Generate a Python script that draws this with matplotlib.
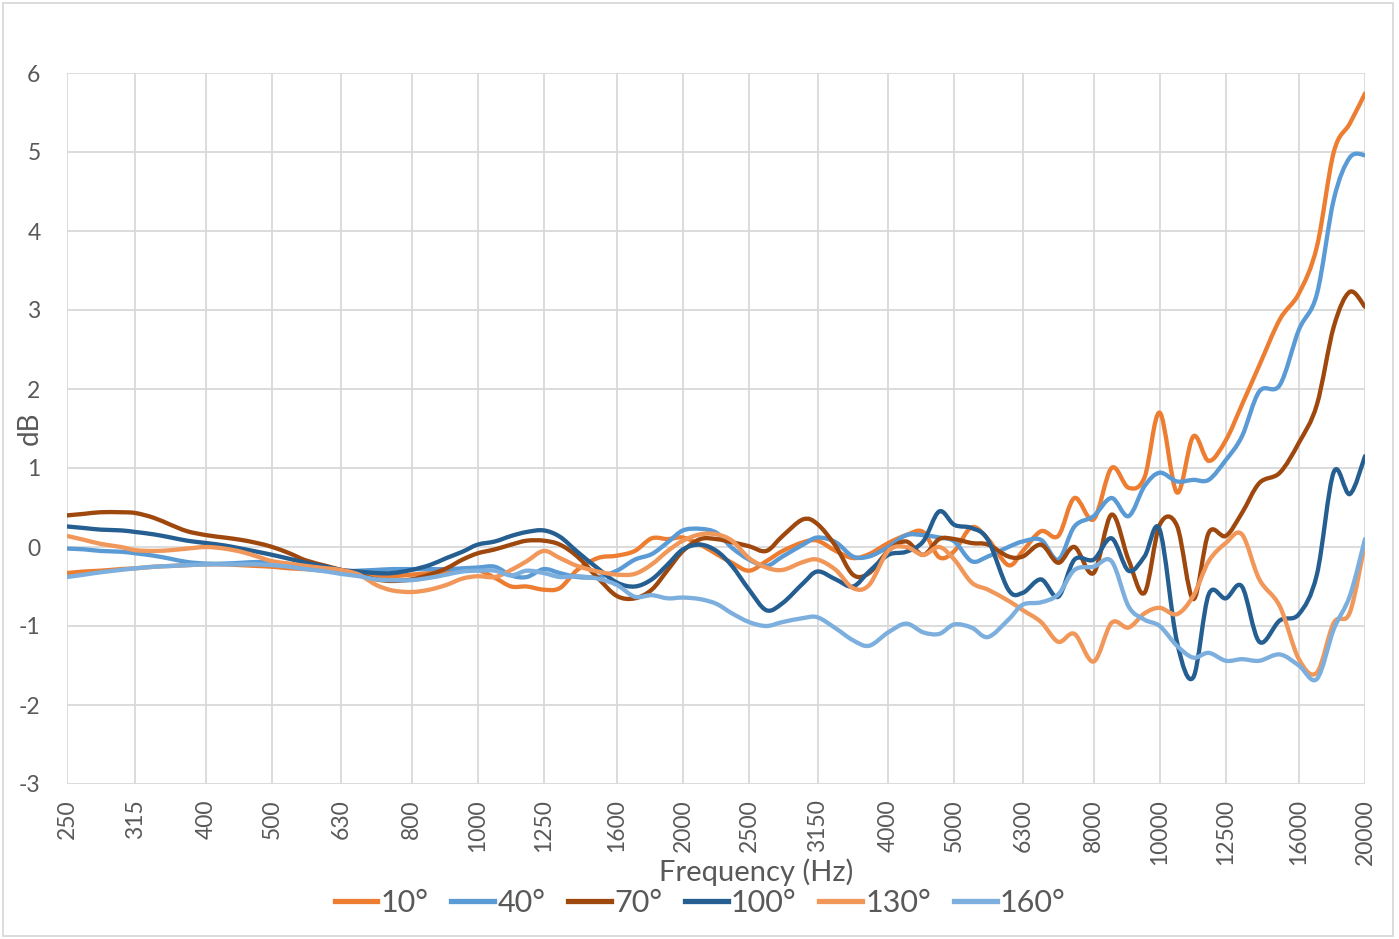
import numpy as np
import matplotlib.pyplot as plt
from matplotlib.path import Path
from matplotlib.patches import PathPatch, Rectangle
from matplotlib.lines import Line2D
from matplotlib.ticker import NullLocator

plt.rcParams['font.family'] = ['Lato', 'DejaVu Sans']
plt.rcParams['axes.unicode_minus'] = False

# 1/12-octave measurement frequencies (Hz)
freqs = [250, 265, 280, 300, 315, 335, 355, 375, 400, 425, 450, 475,
         500, 530, 560, 600, 630, 670, 710, 750, 800, 850, 900, 950,
         1000, 1060, 1120, 1180, 1250, 1320, 1400, 1500, 1600, 1700, 1800, 1900,
         2000, 2120, 2240, 2360, 2500, 2650, 2800, 3000, 3150, 3350, 3550, 3750,
         4000, 4250, 4500, 4750, 5000, 5300, 5600, 6000, 6300, 6700, 7100, 7500,
         8000, 8500, 9000, 9500, 10000, 10600, 11200, 11800, 12500, 13200, 14000, 15000,
         16000, 17000, 18000, 19000, 20000]

# third-octave centre frequencies used for the axis
bands = [250, 315, 400, 500, 630, 800, 1000, 1250, 1600, 2000,
         2500, 3150, 4000, 5000, 6300, 8000, 10000, 12500, 16000, 20000]

angles = ["10°", "40°", "70°", "100°", "130°", "160°"]

db_10 = [-0.33, -0.31, -0.30, -0.28, -0.27, -0.25, -0.24, -0.23, -0.22, -0.22, -0.23, -0.24,
         -0.25, -0.27, -0.28, -0.30, -0.30, -0.33, -0.37, -0.37, -0.35, -0.33, -0.31, -0.29,
         -0.29, -0.39, -0.50, -0.50, -0.54, -0.52, -0.29, -0.14, -0.11, -0.05, 0.11, 0.10,
         0.12, 0.03, -0.09, -0.20, -0.30, -0.18, -0.05, 0.06, 0.08, -0.05, -0.14, -0.09,
         0.05, 0.15, 0.19, -0.13, -0.05, 0.25, 0.10, -0.23, -0.05, 0.20, 0.14, 0.62,
         0.35, 1.00, 0.75, 0.88, 1.70, 0.69, 1.40, 1.09, 1.35, 1.80, 2.30, 2.88,
         3.21, 3.80, 5.00, 5.36, 5.74]

db_40 = [-0.02, -0.03, -0.05, -0.06, -0.08, -0.11, -0.15, -0.19, -0.21, -0.21, -0.20, -0.19,
         -0.20, -0.22, -0.25, -0.28, -0.31, -0.30, -0.29, -0.28, -0.28, -0.28, -0.28, -0.27,
         -0.26, -0.25, -0.36, -0.38, -0.28, -0.33, -0.38, -0.38, -0.30, -0.16, -0.09, 0.06,
         0.21, 0.23, 0.18, -0.01, -0.16, -0.24, -0.12, 0.03, 0.12, 0.06, -0.12, -0.12,
         0.00, 0.15, 0.15, 0.12, 0.07, -0.18, -0.12, 0.00, 0.07, 0.09, -0.16, 0.26,
         0.39, 0.62, 0.39, 0.77, 0.94, 0.83, 0.85, 0.85, 1.10, 1.40, 1.97, 2.05,
         2.75, 3.20, 4.40, 4.93, 4.96]

db_70 = [0.40, 0.42, 0.44, 0.44, 0.43, 0.37, 0.28, 0.20, 0.15, 0.12, 0.09, 0.05,
         0.00, -0.08, -0.17, -0.24, -0.29, -0.35, -0.41, -0.43, -0.41, -0.35, -0.27, -0.16,
         -0.08, -0.03, 0.03, 0.08, 0.08, 0.03, -0.12, -0.39, -0.62, -0.65, -0.54, -0.29,
         -0.05, 0.10, 0.10, 0.06, 0.01, -0.05, 0.14, 0.35, 0.29, 0.01, -0.35, -0.33,
         -0.05, 0.07, -0.10, 0.10, 0.10, 0.05, 0.03, -0.12, -0.12, 0.03, -0.20, 0.00,
         -0.33, 0.41, -0.16, -0.58, 0.28, 0.27, -0.66, 0.18, 0.14, 0.43, 0.81, 0.94,
         1.32, 1.80, 2.79, 3.23, 3.04]

db_100 = [0.26, 0.24, 0.22, 0.21, 0.19, 0.16, 0.12, 0.08, 0.05, 0.02, -0.02, -0.06,
          -0.10, -0.15, -0.20, -0.25, -0.29, -0.31, -0.33, -0.33, -0.29, -0.23, -0.14, -0.06,
          0.03, 0.07, 0.14, 0.19, 0.21, 0.13, -0.06, -0.27, -0.45, -0.50, -0.41, -0.22,
          -0.03, 0.03, -0.05, -0.24, -0.54, -0.80, -0.71, -0.46, -0.31, -0.41, -0.50, -0.31,
          -0.10, -0.06, 0.07, 0.45, 0.28, 0.24, 0.09, -0.54, -0.58, -0.41, -0.63, -0.16,
          -0.16, 0.11, -0.30, -0.12, 0.22, -1.20, -1.65, -0.60, -0.65, -0.50, -1.20, -0.93,
          -0.85, -0.35, 0.95, 0.67, 1.15]

db_130 = [0.14, 0.09, 0.04, 0.00, -0.04, -0.05, -0.04, -0.02, 0.00, -0.02, -0.06, -0.12,
          -0.18, -0.21, -0.24, -0.27, -0.29, -0.35, -0.48, -0.55, -0.57, -0.54, -0.48, -0.40,
          -0.37, -0.38, -0.29, -0.18, -0.05, -0.14, -0.24, -0.31, -0.35, -0.34, -0.22, -0.05,
          0.08, 0.16, 0.16, 0.08, -0.14, -0.26, -0.29, -0.19, -0.16, -0.29, -0.52, -0.48,
          -0.05, 0.00, -0.10, 0.00, -0.16, -0.45, -0.54, -0.68, -0.80, -0.95, -1.20, -1.10,
          -1.45, -0.96, -1.02, -0.84, -0.77, -0.85, -0.62, -0.18, 0.05, 0.16, -0.41, -0.75,
          -1.42, -1.59, -0.96, -0.83, 0.05]

db_160 = [-0.38, -0.35, -0.32, -0.29, -0.27, -0.25, -0.24, -0.23, -0.22, -0.22, -0.22, -0.22,
          -0.23, -0.25, -0.28, -0.31, -0.34, -0.37, -0.41, -0.42, -0.42, -0.39, -0.35, -0.31,
          -0.30, -0.30, -0.36, -0.30, -0.33, -0.38, -0.37, -0.40, -0.48, -0.63, -0.61, -0.65,
          -0.64, -0.66, -0.72, -0.84, -0.95, -1.00, -0.95, -0.90, -0.89, -1.03, -1.18, -1.25,
          -1.08, -0.97, -1.08, -1.10, -0.98, -1.02, -1.14, -0.92, -0.73, -0.70, -0.60, -0.29,
          -0.25, -0.18, -0.75, -0.92, -1.00, -1.25, -1.40, -1.34, -1.44, -1.42, -1.44, -1.36,
          -1.50, -1.67, -1.04, -0.62, 0.10]

series = [db_10, db_40, db_70, db_100, db_130, db_160]
colors = ["#ED7D31", "#5B9BD5", "#9E480E", "#255E91", "#F1975A", "#7CAFDD"]


def smooth_path(x, y):
    # Catmull-Rom style cubic Bezier through the points, built in log-frequency space
    pts = np.column_stack([np.log10(x), y])
    padded = np.vstack([pts[0], pts, pts[-1]])
    verts = [pts[0]]
    codes = [Path.MOVETO]
    for i in range(len(pts) - 1):
        p0, p1, p2, p3 = padded[i], padded[i + 1], padded[i + 2], padded[i + 3]
        verts += [p1 + (p2 - p0) / 6, p2 - (p3 - p1) / 6, p2]
        codes += [Path.CURVE4] * 3
    verts = np.array(verts)
    verts[:, 0] = 10 ** verts[:, 0]
    return Path(verts, codes)


W, H = 1399, 939
fig = plt.figure(figsize=(W / 100, H / 100), dpi=100)
ax = fig.add_axes([67 / W, 1 - 784 / H, (1365 - 67) / W, (784 - 73) / H])

for vals, col in zip(series, colors):
    ax.add_patch(PathPatch(smooth_path(freqs, vals), fill=False, edgecolor=col,
                           lw=3.1, capstyle='round', joinstyle='round', zorder=3))

ax.set_xscale('log')
ax.set_xlim(250, 20000)
ax.set_ylim(-3, 6)
ax.set_xticks(bands)
ax.set_xticklabels([str(b) for b in bands], rotation=90)
ax.xaxis.set_minor_locator(NullLocator())
ax.set_yticks(range(-3, 7))
ax.tick_params(length=0, colors='#595959', labelsize=16.5)
ax.tick_params(axis='y', pad=19)
ax.tick_params(axis='x', pad=11)
ax.grid(True, color='#d9d9d9', lw=1.3)
ax.set_axisbelow(True)
for s in ax.spines.values():
    s.set_visible(False)

fig.text(756 / W, 1 - 872 / H, "Frequency (Hz)", ha='center', va='center',
         fontsize=21, color='#595959')
fig.text(30 / W, 1 - 428 / H, "dB", ha='center', va='center', rotation=90,
         fontsize=20, color='#595959')

handles = [Line2D([], [], color=c, lw=3.8) for c in colors]
fig.legend(handles, angles, loc='center', bbox_to_anchor=(700 / W, 1 - 903 / H),
           ncol=6, frameon=False, fontsize=22, handlelength=1.4, handletextpad=0.1,
           columnspacing=0.75, labelcolor='#595959')

fig.add_artist(Rectangle((3 / W, 3 / H), 1390 / W, 933 / H, transform=fig.transFigure,
                         fill=False, ec='#d9d9d9', lw=1.3))

fig.savefig("out.png", dpi=100)
